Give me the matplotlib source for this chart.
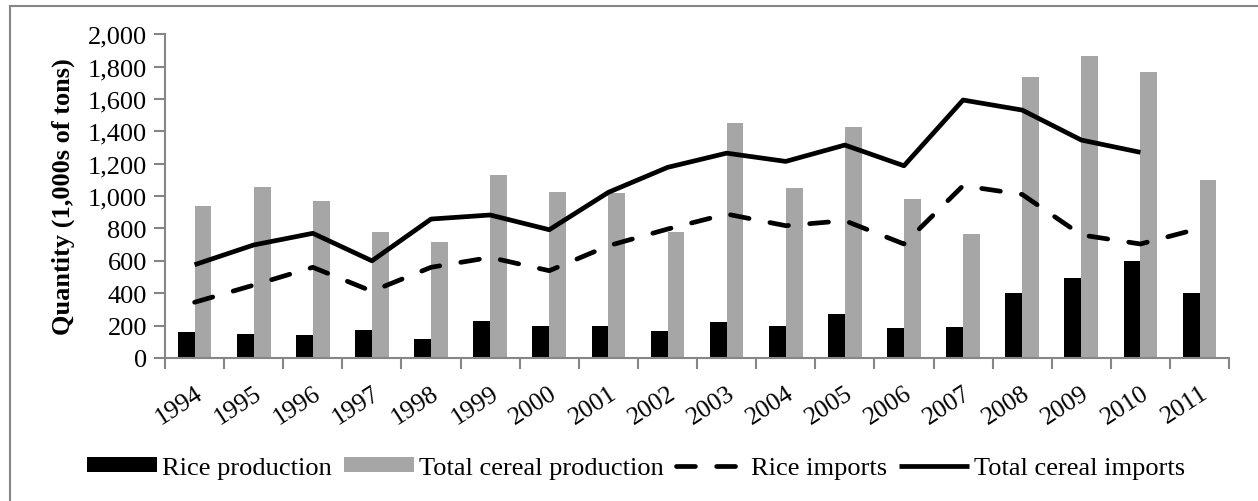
import matplotlib.pyplot as plt
import matplotlib.patches as mpatches
import numpy as np

plt.rcParams['font.family'] = ['Liberation Serif', 'DejaVu Serif']

# annual figures, 1,000s of tons
years = ['1994', '1995', '1996', '1997', '1998', '1999', '2000', '2001', '2002',
         '2003', '2004', '2005', '2006', '2007', '2008', '2009', '2010', '2011']
rice_production = [160, 150, 140, 170, 120, 230, 195, 200, 165,
                   225, 195, 272, 185, 190, 400, 497, 600, 400]
cereal_production = [940, 1054, 971, 776, 714, 1130, 1023, 1017, 780,
                     1449, 1049, 1428, 981, 768, 1736, 1866, 1765, 1097]
rice_imports = [344, 450, 560, 412, 560, 621, 539, 693, 796,
                889, 817, 848, 704, 1064, 1010, 760, 704, 800]
cereal_imports = [576, 698, 770, 600, 858, 883, 792, 1023, 1177,
                  1265, 1214, 1315, 1187, 1593, 1531, 1346, 1270, None]

x = np.arange(len(years))
bw = 0.285
axis_grey = '#868686'
fs = 19

fig = plt.figure(figsize=(12.58, 5.02), dpi=100)
ax = fig.add_axes([0.1312, 0.2849, 0.8458, 0.6451])

# chart frame (only the left and top edges fall inside the image)
fig.patches.append(mpatches.Rectangle((10 / 1258, -1), 2, 2 - 7 / 502,
                                      transform=fig.transFigure, fill=False,
                                      edgecolor=axis_grey, linewidth=1.5))

h1 = ax.bar(x - bw / 2, rice_production, bw, color='black',
            label='Rice production', zorder=2)
h2 = ax.bar(x + bw / 2, cereal_production, bw, color='#a6a6a6',
            label='Total cereal production', zorder=2)
h3, = ax.plot(x, rice_imports, color='black', lw=3.4, ls=(0, (4, 4.5)),
              dash_capstyle='round', label='Rice imports', zorder=3)
ci = np.array([np.nan if v is None else v for v in cereal_imports], dtype=float)
h4, = ax.plot(x, ci, color='black', lw=3.4, solid_joinstyle='round',
              solid_capstyle='butt', label='Total cereal imports', zorder=3)

ax.set_xlim(-0.5, len(years) - 0.5)
ax.set_ylim(0, 2000)
ax.set_yticks(range(0, 2001, 200))
ax.set_yticklabels([f'{v:,}' for v in range(0, 2001, 200)], fontsize=fs)
ax.set_xticks(x)
ax.set_xticklabels(years, rotation=33, ha='right', va='top', fontsize=18.5,
                   rotation_mode='anchor')
ax.set_xticks(np.arange(-0.5, len(years), 1), minor=True)
ax.tick_params(axis='x', which='major', length=0, pad=17)
ax.tick_params(axis='x', which='minor', length=8, color=axis_grey, width=1.5)
ax.tick_params(axis='y', length=8, color=axis_grey, width=1.5, pad=5)

for s in ['top', 'right']:
    ax.spines[s].set_visible(False)
for s in ['left', 'bottom']:
    ax.spines[s].set_color(axis_grey)
    ax.spines[s].set_linewidth(1.5)

ax.set_ylabel('Quantity (1,000s of tons)', fontsize=fs, fontweight='bold', labelpad=9)

fig.legend(handles=[h1, h2, h3, h4], loc='center',
           bbox_to_anchor=(636 / 1258, 1 - 469 / 502), ncol=4, frameon=False,
           fontsize=fs, handlelength=2.65, handleheight=0.5, handletextpad=0.2,
           columnspacing=0.45, borderpad=0)

fig.savefig('out.png', dpi=100)
